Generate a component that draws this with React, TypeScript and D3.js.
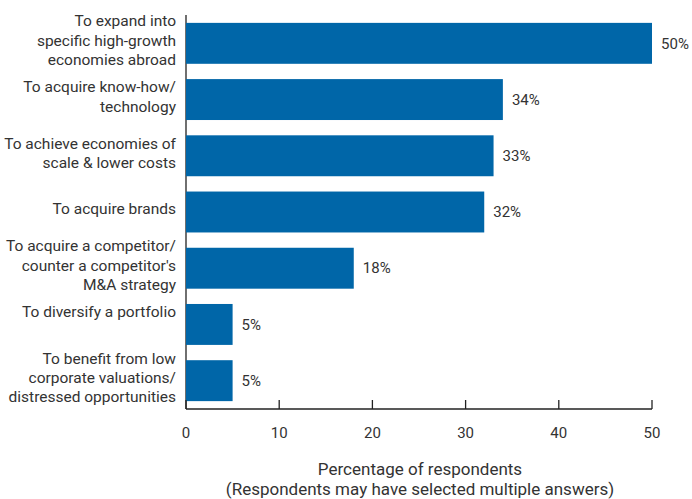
import React from "react";
import * as d3 from "d3";

const categories: string[][] = [
  ["To expand into", "specific high-growth", "economies abroad"],
  ["To acquire know-how/", "technology"],
  ["To achieve economies of", "scale & lower costs"],
  ["To acquire brands"],
  ["To acquire a competitor/", "counter a competitor's", "M&A strategy"],
  ["To diversify a portfolio", ""],
  ["To benefit from low", "corporate valuations/", "distressed opportunities"],
];
const values: number[] = [50, 34, 33, 32, 18, 5, 5];
const xTicks: number[] = [0, 10, 20, 30, 40, 50];
const axisTitle: string[] = [
  "Percentage of respondents",
  "(Respondents may have selected multiple answers)",
];

const W = 692;
const H = 499;
const FONT = "Roboto, 'DejaVu Sans', sans-serif";
const TXT = "#333";
const BAR = "#0066a8";

export default function App() {
  const left = 186;
  const right = 652;
  const top = 15;
  const bottom = 409;
  const x = d3.scaleLinear().domain([0, 50]).range([left, right]);
  const y = d3
    .scaleBand<number>()
    .domain(d3.range(categories.length))
    .range([top, bottom])
    .paddingInner(0.272)
    .paddingOuter(0.14);
  const lh = 19.3;
  return (
    <svg
      width={W}
      height={H}
      style={{ position: "absolute", left: 0, top: 0, background: "#fff" }}
      fontFamily={FONT}
    >
      <line x1={left} x2={left} y1={top} y2={bottom} stroke="#222" strokeWidth={1.3} />
      {values.map((v, i) => {
        const y0 = y(i)!;
        const cy = y0 + y.bandwidth() / 2;
        const lines = categories[i];
        const startY = cy - 3 - ((lines.length - 1) * lh) / 2;
        return (
          <g key={i}>
            <rect x={x(0)} y={y0} width={x(v) - x(0)} height={y.bandwidth()} fill={BAR} />
            <text x={x(v) + 9} y={cy} dy="0.35em" fontSize={15} fill={TXT}>
              {v}%
            </text>
            {lines.map((ln, j) => (
              <text
                key={j}
                x={176}
                y={startY + j * lh}
                dy="0.35em"
                textAnchor="end"
                fontSize={15.5}
                fill={TXT}
              >
                {ln}
              </text>
            ))}
          </g>
        );
      })}
      <line x1={left} x2={right} y1={bottom} y2={bottom} stroke="#222" strokeWidth={1.3} />
      {xTicks.map((t) => (
        <g key={t}>
          <line x1={x(t)} x2={x(t)} y1={bottom} y2={bottom - 9} stroke="#222" strokeWidth={1.3} />
          <text x={x(t)} y={433} dy="0.35em" textAnchor="middle" fontSize={15} fill={TXT}>
            {t}
          </text>
        </g>
      ))}
      {axisTitle.map((s, j) => (
        <text
          key={j}
          x={(left + right) / 2 + 1}
          y={469 + j * 20}
          dy="0.35em"
          textAnchor="middle"
          fontSize={17}
          fill={TXT}
        >
          {s}
        </text>
      ))}
    </svg>
  );
}
